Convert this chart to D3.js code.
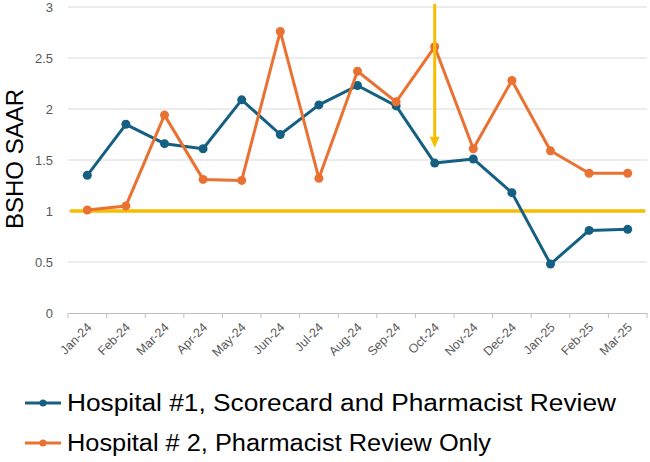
<!DOCTYPE html>
<html>
<head>
<meta charset="utf-8">
<script src="https://cdn.jsdelivr.net/npm/d3@7"></script>
<style>
  body { margin: 0; background: #fff; }
  text { font-family: "Liberation Sans", Arial, sans-serif; }
</style>
</head>
<body>
<div id="chart"></div>
<script>
const months = ["Jan-24", "Feb-24", "Mar-24", "Apr-24", "May-24", "Jun-24", "Jul-24", "Aug-24",
    "Sep-24", "Oct-24", "Nov-24", "Dec-24", "Jan-25", "Feb-25", "Mar-25"];
const hospital1 = [1.35, 1.85, 1.66, 1.61, 2.09, 1.75, 2.04, 2.23, 2.03, 1.47, 1.51, 1.18, 0.48, 0.81, 0.82];
const hospital2 = [1.01, 1.05, 1.94, 1.31, 1.30, 2.76, 1.32, 2.37, 2.07, 2.61, 1.61, 2.28, 1.59, 1.37, 1.37];
const yTicks = [0, 0.5, 1, 1.5, 2, 2.5, 3];
const target = 1;
const arrowMonth = "Oct-24";
const arrowFrom = 3.03, arrowTo = 1.62;
const seriesNames = ["Hospital #1, Scorecard and Pharmacist Review", "Hospital # 2, Pharmacist Review Only"];

const width = 650, height = 462;
const margin = {top: 7, right: 3, bottom: 149, left: 68};
const w = width - margin.left - margin.right;
const h = 313 - margin.top;

const blue = "#156082", orange = "#E97132", gold = "#F5BE00";

const svg = d3.select('#chart')
    .append('svg')
    .attr('width', width)
    .attr('height', height);
const g = svg.append('g')
    .attr("transform", "translate(" + margin.left + "," + margin.top + ")");

const x = d3.scaleBand().domain(months).range([0, w]);
const y = d3.scaleLinear().domain([0, 3]).range([h, 0]);
const cx = d => x(d) + x.bandwidth() / 2;

// gridlines
g.append('g')
    .selectAll('line')
    .data(yTicks.filter(t => t > 0))
    .join('line')
    .attr('x1', 0).attr('x2', w)
    .attr('y1', d => y(d)).attr('y2', d => y(d))
    .attr('stroke', '#d9d9d9').attr('stroke-width', 1);

// y labels
g.append('g')
    .selectAll('text')
    .data(yTicks)
    .join('text')
    .attr('x', -15)
    .attr('y', d => y(d))
    .attr('dy', '0.35em')
    .attr('text-anchor', 'end')
    .attr('font-size', 13)
    .attr('fill', '#595959')
    .text(d => d);

// x axis
const xAxis = g.append('g')
    .attr('transform', 'translate(0,' + h + ')')
    .call(d3.axisBottom(x).tickSize(0).tickFormat(''));
xAxis.select('.domain').attr('stroke', '#bfbfbf');
g.append('g')
    .selectAll('line')
    .data(d3.range(months.length + 1))
    .join('line')
    .attr('x1', i => i * x.step()).attr('x2', i => i * x.step())
    .attr('y1', h).attr('y2', h + 5)
    .attr('stroke', '#bfbfbf');

g.append('g')
    .selectAll('text')
    .data(months)
    .join('text')
    .attr('transform', d => 'translate(' + (cx(d) + 2) + ',' + (h + 12) + ') rotate(-45)')
    .attr('text-anchor', 'end')
    .attr('dy', '0.35em')
    .attr('font-size', 12.5)
    .attr('fill', '#595959')
    .text(d => d);

// y title
svg.append('text')
    .attr('transform', 'translate(' + 23 + ',' + 159 + ') rotate(-90)')
    .attr('text-anchor', 'middle')
    .attr('font-size', 24)
    .attr('fill', '#000')
    .text('BSHO SAAR');

// target line
g.append('line')
    .attr('x1', 2).attr('x2', w - 2)
    .attr('y1', y(target)).attr('y2', y(target))
    .attr('stroke', gold).attr('stroke-width', 3.5);

const line = d3.line().x((d, i) => cx(months[i])).y(d => y(d));

function drawSeries(vals, color) {
    g.append('path')
        .datum(vals)
        .attr('d', line)
        .attr('fill', 'none')
        .attr('stroke', color)
        .attr('stroke-width', 3)
        .attr('stroke-linejoin', 'round');
    g.append('g')
        .selectAll('circle')
        .data(vals)
        .join('circle')
        .attr('cx', (d, i) => cx(months[i]))
        .attr('cy', d => y(d))
        .attr('r', 4.5)
        .attr('fill', color);
}
drawSeries(hospital1, blue);
drawSeries(hospital2, orange);

// arrow
const ax = cx(arrowMonth);
g.append('line')
    .attr('x1', ax).attr('x2', ax)
    .attr('y1', y(arrowFrom)).attr('y2', y(arrowTo) - 8)
    .attr('stroke', gold).attr('stroke-width', 3);
g.append('path')
    .attr('d', 'M' + (ax - 5) + ',' + (y(arrowTo) - 11) + 'L' + (ax + 5) + ',' + (y(arrowTo) - 11) + 'L' + ax + ',' + y(arrowTo) + 'Z')
    .attr('fill', gold);

// legend
const legend = svg.append('g');
const legendRows = [
    {name: seriesNames[0], color: blue, y: 403, len: 549},
    {name: seriesNames[1], color: orange, y: 443, len: 424}
];
legendRows.forEach(r => {
    legend.append('line')
        .attr('x1', 25).attr('x2', 61)
        .attr('y1', r.y).attr('y2', r.y)
        .attr('stroke', r.color).attr('stroke-width', 3);
    legend.append('circle')
        .attr('cx', 43).attr('cy', r.y).attr('r', 3.5)
        .attr('fill', r.color);
    legend.append('text')
        .attr('x', 67).attr('y', r.y)
        .attr('dy', '0.35em')
        .attr('font-size', 23)
        .attr('fill', '#000')
        .attr('textLength', r.len)
        .attr('lengthAdjust', 'spacingAndGlyphs')
        .text(r.name);
});
</script>
</body>
</html>
